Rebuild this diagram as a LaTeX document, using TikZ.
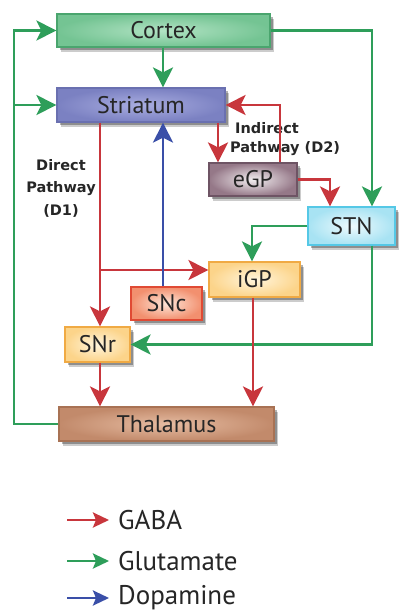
\documentclass[tikz,border=0pt]{standalone}
\usepackage{fontspec}
\setmainfont{PT Sans}
\newfontfamily\labfont{DejaVu Sans}
\usetikzlibrary{arrows.meta,shadows}
\definecolor{gabac}{HTML}{C8363C}
\definecolor{gluc}{HTML}{2E9E5A}
\definecolor{dopac}{HTML}{3A4FA8}
% box colours
\definecolor{cxin}{HTML}{B2E3C4}\definecolor{cxout}{HTML}{74C493}\definecolor{cxbd}{HTML}{4AA56E}
\definecolor{stin}{HTML}{A9ADE0}\definecolor{stout}{HTML}{7B81C2}\definecolor{stbd}{HTML}{6A70B0}
\definecolor{egin}{HTML}{F2EEF0}\definecolor{egout}{HTML}{957888}\definecolor{egbd}{HTML}{6E5464}
\definecolor{snin}{HTML}{EEFAFD}\definecolor{snout}{HTML}{A8E3F3}\definecolor{snbd}{HTML}{55C8E6}
\definecolor{igin}{HTML}{FFF5DC}\definecolor{igout}{HTML}{FCD48A}\definecolor{igbd}{HTML}{F0AA44}
\definecolor{scin}{HTML}{FDE6D8}\definecolor{scout}{HTML}{F2906F}\definecolor{scbd}{HTML}{E04A34}
\definecolor{thin}{HTML}{E6BCA2}\definecolor{thout}{HTML}{C28A6B}\definecolor{thbd}{HTML}{A87254}
\begin{document}
\begin{tikzpicture}[x=1pt,y=-1pt,
  box/.style={rectangle, inner sep=0pt, line width=1.2pt, text=black!85,
    font=\fontsize{24}{24}\selectfont,
    drop shadow={shadow xshift=4pt,shadow yshift=-5pt,opacity=0.2,fill=black},
    drop shadow={shadow xshift=2.5pt,shadow yshift=-3pt,opacity=0.3,fill=black}},
  conn/.style={line width=2.8pt, -{Stealth[length=20pt,width=20pt,inset=5pt]}},
  gabaline/.style={conn, draw=gabac},
  gluline/.style={conn, draw=gluc},
  dopaline/.style={conn, draw=dopac},
  legarrow/.style={line width=2.8pt, -{Stealth[length=16pt,width=15pt,inset=3pt]}},
  lab/.style={font=\labfont\bfseries\fontsize{14.5}{22.5}\selectfont, text=black!85, inner sep=0pt},
  leg/.style={font=\fontsize{27}{27}\selectfont, text=black!85, anchor=west, inner sep=0pt}
]
\useasboundingbox[fill=white] (0,0) rectangle (400,614);

% boxes
\node[box, minimum width=213pt, minimum height=33pt, draw=cxbd, inner color=cxin, outer color=cxout] (cortex) at (163.5,30.5) {Cortex};
\node[box, minimum width=168pt, minimum height=34pt, draw=stbd, inner color=stin, outer color=stout] (stri) at (141,105) {Striatum};
\node[box, minimum width=88pt, minimum height=33pt, draw=egbd, inner color=egin, outer color=egout] (egp) at (253,179.5) {eGP};
\node[box, minimum width=87pt, minimum height=38pt, draw=snbd, inner color=snin, outer color=snout] (stn) at (351.5,226) {STN};
\node[box, minimum width=91pt, minimum height=35pt, draw=igbd, inner color=igin, outer color=igout] (igp) at (254.5,279.5) {iGP};
\node[box, minimum width=71pt, minimum height=33pt, draw=scbd, inner color=scin, outer color=scout] (snc) at (166.5,303.5) {SNc};
\node[box, minimum width=65pt, minimum height=35pt, draw=igbd, inner color=igin, outer color=igout] (snr) at (97.5,344.5) {SNr};
\node[box, minimum width=215pt, minimum height=34pt, draw=thbd, inner color=thin, outer color=thout] (thal) at (166.5,424) {Thalamus};

% labels
\node[lab, anchor=west] (ind1) at (235,128) {Indirect};
\node[lab, anchor=west] (ind2) at (230,149) {Pathway (D2)};
\node[lab, align=center] (dir) at (61,188) {Direct\\Pathway\\(D1)};

% helper coordinates
\coordinate (L) at (14,31);
\coordinate (R) at (372,0);
\coordinate (D) at (100,0);
\coordinate (Db) at (100,270);
\coordinate (B) at (163,0);
\coordinate (E) at (218,0);
\coordinate (F) at (280,0);
\coordinate (G) at (330,0);
\coordinate (H) at (252,0);
\coordinate (I) at (253,0);

% green connectors
\draw[gluline] (thal.west) -| (L) |- (cortex.west);
\draw[gluline] (L |- stri.west) -- (stri.west);
\draw[gluline] (B |- cortex.south) -- (B |- stri.north);
\draw[gluline] (cortex.east) -| (R |- stn.north);
\draw[gluline] (stn.west) -| (H |- igp.north);
\draw[gluline] (R |- stn.south) |- (snr.east);

% red connectors
\draw[gabaline] (D |- stri.south) -- (D |- snr.north);
\draw[gabaline] (Db) -- (Db -| igp.west);
\draw[gabaline] (E |- stri.south) -- (E |- egp.north);
\draw[gabaline] (F |- egp.north) |- (stri.east);
\draw[gabaline] (egp.east) -| (G |- stn.north);
\draw[gabaline] (I |- igp.south) -- (I |- thal.north);
\draw[gabaline] (D |- snr.south) -- (D |- thal.north);

% blue connector
\draw[dopaline] (B |- snc.north) -- (B |- stri.south);

% legend
\coordinate (g1) at (67,520);
\coordinate (g2) at (67,561);
\coordinate (g3) at (67,598);
\node[leg] (tgaba) at (118,520) {GABA};
\node[leg] (tglu) at (118,561) {Glutamate};
\node[leg] (tdopa) at (118,598) {Dopamine};
\draw[legarrow, draw=gabac] (g1) -- ([xshift=-9pt]tgaba.west);
\draw[legarrow, draw=gluc] (g2) -- ([xshift=-9pt]tglu.west);
\draw[legarrow, draw=dopac] (g3) -- ([xshift=-9pt]tdopa.west);
\end{tikzpicture}
\end{document}
